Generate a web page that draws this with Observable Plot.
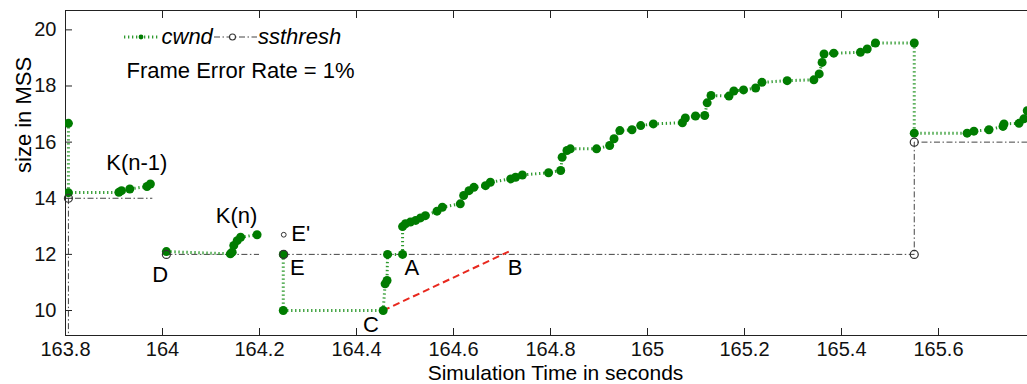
<!DOCTYPE html>
<html><head><meta charset="utf-8">
<script src="https://cdn.jsdelivr.net/npm/d3@7"></script>
<script src="https://cdn.jsdelivr.net/npm/@observablehq/plot@0.6"></script>
<style>
body{margin:0;background:#fff;}
#wrap{position:relative;width:1027px;height:384px;font-family:"Liberation Sans",Arial,sans-serif;}
#legend{position:absolute;left:0;top:0;pointer-events:none;}
</style></head><body>
<div id="wrap"></div>
<script>
// ---- data ----
const xTicks = [163.8, 164, 164.2, 164.4, 164.6, 164.8, 165, 165.2, 165.4, 165.6];
const yTicks = [10, 12, 14, 16, 18, 20];

const cwndTime = [
  163.806, 163.806, 163.910, 163.9155, 163.9326, 163.968, 163.975,
  164.008, 164.140, 164.1437, 164.147, 164.154, 164.161, 164.195,
  164.249, 164.249, 164.455, 164.459, 164.463, 164.464, 164.495, 164.495,
  164.501, 164.511, 164.522, 164.532, 164.542, 164.566, 164.577,
  164.614, 164.621, 164.632, 164.642, 164.666, 164.676,
  164.718, 164.728, 164.742, 164.796, 164.821, 164.824, 164.834, 164.841,
  164.895, 164.922, 164.931, 164.943, 164.968, 164.986, 165.012,
  165.072, 165.078, 165.099, 165.118, 165.123, 165.131, 165.168, 165.178,
  165.198, 165.223, 165.236, 165.288, 165.343, 165.354, 165.360, 165.364,
  165.384, 165.439, 165.453, 165.470, 165.550, 165.550,
  165.659, 165.673, 165.704, 165.733, 165.735, 165.766, 165.776, 165.783
];
const cwndSize = [
  16.67, 14.20, 14.21, 14.27, 14.33, 14.42, 14.51,
  12.10, 12.02, 12.08, 12.32, 12.49, 12.61, 12.70,
  12.00, 10.00, 10.00, 10.95, 11.07, 12.00, 12.00, 12.99,
  13.09, 13.15, 13.21, 13.30, 13.38, 13.54, 13.68,
  13.80, 14.10, 14.27, 14.39, 14.45, 14.57,
  14.69, 14.75, 14.83, 14.91, 14.99, 15.46, 15.70, 15.76,
  15.76, 15.88, 16.12, 16.41, 16.44, 16.59, 16.65,
  16.69, 16.86, 16.93, 16.95, 17.40, 17.66, 17.64, 17.82,
  17.86, 17.93, 18.13, 18.19, 18.22, 18.43, 18.84, 19.14,
  19.17, 19.20, 19.32, 19.53, 19.53, 16.32,
  16.32, 16.39, 16.44, 16.56, 16.65, 16.67, 16.83, 17.12
];
const cwndSegment = [
  1, 1, 1, 1, 1, 1, 1,
  2, 2, 2, 2, 2, 2, 2,
  3, 3, 3, 3, 3, 3, 3, 3,
  3, 3, 3, 3, 3, 3, 3,
  3, 3, 3, 3, 3, 3,
  3, 3, 3, 3, 3, 3, 3, 3,
  3, 3, 3, 3, 3, 3, 3,
  3, 3, 3, 3, 3, 3, 3, 3,
  3, 3, 3, 3, 3, 3, 3, 3,
  3, 3, 3, 3, 3, 3,
  3, 3, 3, 3, 3, 3, 3, 3
];

const ssTime = [163.806, 163.806, 163.979, 164.008, 164.199, 164.25, 165.55, 165.55, 165.7835];
const ssSize = [8, 14, 14, 12, 12, 12, 12, 16, 16];
const ssSegment = [1, 1, 1, 2, 2, 3, 3, 3, 3];
const ssMarkTime = [163.806, 164.008, 164.25, 165.55, 165.55];
const ssMarkSize = [14, 12, 12, 12, 16];
const ePrimeTime = [164.25];
const ePrimeSize = [12.7];

const redTime = [164.455, 164.714];
const redSize = [10, 12.1];

const labelText = ["K(n-1)", "K(n)", "E'", "E", "D", "C", "A", "B"];
const labelTime = [163.947, 164.1526, 164.285, 164.278, 163.995, 164.43, 164.514, 164.727];
const labelSize = [15.25, 13.38, 12.73, 11.50, 11.28, 9.50, 11.50, 11.50];

// ---- tables ----
const cwnd = cwndTime.map((t, i) => ({t, v: cwndSize[i], s: cwndSegment[i]}));
const ss = ssTime.map((t, i) => ({t, v: ssSize[i], s: ssSegment[i]}));
const ssMarks = ssMarkTime.map((t, i) => ({t, v: ssMarkSize[i]}));
const ePrime = ePrimeTime.map((t, i) => ({t, v: ePrimeSize[i]}));
const red = redTime.map((t, i) => ({t, v: redSize[i]}));
const labels = labelText.map((text, i) => ({text, t: labelTime[i], v: labelSize[i]}));

const X0 = 163.8, X1 = 165.7835, Y0 = 9.11, Y1 = 20.69;
const green = "#2f9a2f", greenDot = "#007c00", gray = "#444";
const fmt = d => String(+d.toFixed(1));

const chart = Plot.plot({
  width: 1027, height: 384,
  marginLeft: 65, marginRight: 0, marginTop: 10, marginBottom: 49,
  style: {fontFamily: "'Liberation Sans', Arial, sans-serif", fontSize: "20px", color: "#111", background: "#fff"},
  x: {domain: [X0, X1]},
  y: {domain: [Y0, Y1]},
  marks: [
    Plot.axisX(xTicks, {anchor: "bottom", tickSize: -7, tickPadding: 13, tickFormat: fmt, fontSize: 20, label: null, stroke: "#222"}),
    Plot.axisX(xTicks, {anchor: "top", tickSize: -7, tickFormat: () => "", label: null, stroke: "#222"}),
    Plot.axisY(yTicks, {anchor: "left", tickSize: -7, tickPadding: 16, tickFormat: fmt, fontSize: 20, label: null, stroke: "#222"}),
    Plot.ruleY([Y0, Y1], {stroke: "#222"}),
    Plot.ruleX([X0], {stroke: "#222"}),
    Plot.line(ss, {x: "t", y: "v", z: "s", stroke: gray, strokeWidth: 1, strokeLinecap: "butt", strokeDasharray: "6,2.5,1.5,2.5", clip: true}),
    Plot.line(red, {x: "t", y: "v", stroke: "#e8281e", strokeWidth: 2, strokeLinecap: "butt", strokeDasharray: "7,4"}),
    Plot.line(cwnd, {x: "t", y: "v", z: "s", stroke: green, strokeWidth: 3, strokeLinecap: "butt", strokeLinejoin: "miter", strokeDasharray: "1.3,2.7", clip: true}),
    Plot.dot(cwnd, {x: "t", y: "v", r: 4.5, fill: greenDot, stroke: "none", clip: true}),
    Plot.dot(ssMarks, {x: "t", y: "v", r: 4, fill: "none", stroke: "#333", strokeWidth: 1.2}),
    Plot.dot(ePrime, {x: "t", y: "v", r: 2.4, fill: "none", stroke: "#333", strokeWidth: 1}),
    Plot.text(labels, {x: "t", y: "v", text: "text", fontSize: 22, fill: "#000", textAnchor: "middle", lineAnchor: "middle"}),
    Plot.text(["size in MSS"], {frameAnchor: "left", rotate: -90, dx: -35, lineAnchor: "bottom", fontSize: 22, fill: "#000"}),
    Plot.text(["Simulation Time in seconds"], {frameAnchor: "bottom", dx: 9, dy: 44, lineAnchor: "bottom", fontSize: 21, fill: "#000"})
  ]
});

const wrap = document.getElementById("wrap");
wrap.appendChild(chart);

// legend overlay (inside plot area, top-left)
const ns = "http://www.w3.org/2000/svg";
const lg = document.createElementNS(ns, "svg");
lg.setAttribute("id", "legend");
lg.setAttribute("width", 1027);
lg.setAttribute("height", 384);
lg.innerHTML = `
  <line x1="124" x2="158" y1="37" y2="37" stroke="${green}" stroke-width="3" stroke-dasharray="1.3,2.7"/>
  <circle cx="141" cy="37" r="2.4" fill="${greenDot}"/>
  <text x="161.5" y="44" font-size="22" font-style="italic" fill="#000" font-family="'Liberation Sans', Arial, sans-serif">cwnd</text>
  <line x1="214" x2="257" y1="37" y2="37" stroke="${gray}" stroke-width="1" stroke-dasharray="6,2.5,1.5,2.5"/>
  <circle cx="232.5" cy="37" r="3" fill="#fff" stroke="#333" stroke-width="1.1"/>
  <text x="258" y="44" font-size="22" font-style="italic" fill="#000" font-family="'Liberation Sans', Arial, sans-serif">ssthresh</text>
  <text x="126.5" y="77.5" font-size="22" fill="#000" font-family="'Liberation Sans', Arial, sans-serif">Frame Error Rate = 1%</text>
`;
wrap.appendChild(lg);
</script>
</body></html>
